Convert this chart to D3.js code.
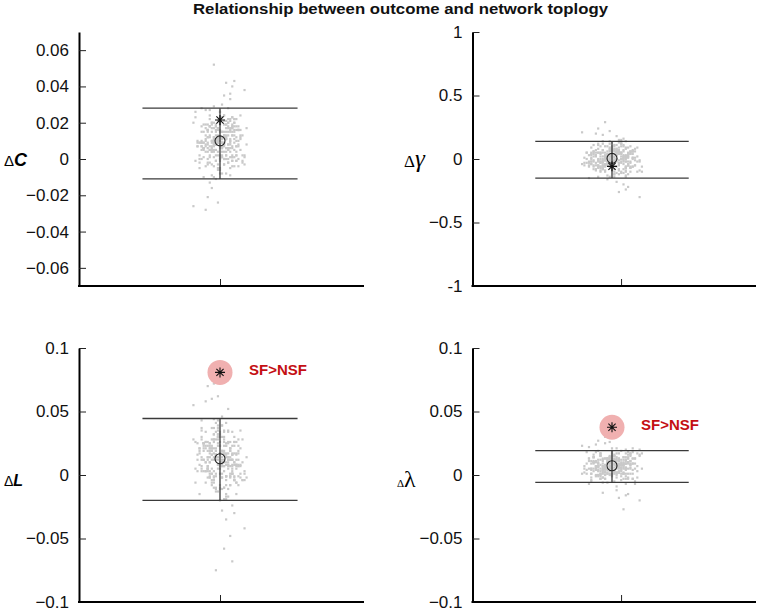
<!DOCTYPE html>
<html><head><meta charset="utf-8">
<script src="https://cdn.jsdelivr.net/npm/d3@7"></script>
<style>body{margin:0;background:#fff;} svg{display:block;font-family:"Liberation Sans",Arial,Helvetica,sans-serif;}</style>
</head><body><svg id="chart" width="765" height="611"></svg>
<script>
// ---------------- DATA ----------------
const titleText = "Relationship between outcome and network toplogy";
const panelKeys = ["C", "gamma", "L", "lambda"];
const yDomains = [[-0.07, 0.07], [-1, 1], [-0.1, 0.1], [-0.1, 0.1]];
const yTicksC = [-0.06, -0.04, -0.02, 0, 0.02, 0.04, 0.06];
const yTickLabelsC = ["\u22120.06", "\u22120.04", "\u22120.02", "0", "0.02", "0.04", "0.06"];
const yTicksGamma = [-1, -0.5, 0, 0.5, 1];
const yTickLabelsGamma = ["-1", "\u22120.5", "0", "0.5", "1"];
const yTicksL = [-0.1, -0.05, 0, 0.05, 0.1];
const yTickLabelsL = ["\u22120.1", "\u22120.05", "0", "0.05", "0.1"];
const yTicksLambda = [-0.1, -0.05, 0, 0.05, 0.1];
const yTickLabelsLambda = ["\u22120.1", "\u22120.05", "0", "0.05", "0.1"];

// x category slot (single group at 1) and its tick position
const xDomain = [0, 2];
const xCategory = 1;
const xTickAt = [1, 1.065, 1, 1.065];

// summary statistics per panel
const meanVals  = [0.010, 0.005, 0.0128, 0.0073];
const starVals  = [0.0215, -0.058, 0.0808, 0.0376];
const upperVals = [0.028, 0.139, 0.0445, 0.0192];
const lowerVals = [-0.011, -0.150, -0.020, -0.0058];
const significant = [false, false, true, true];
const sigLabel = "SF>NSF";

// point clouds (null distribution). jitter = horizontal scatter index
const jitter = [2,-5,7,-1,4,-8,0,6,-3,9,-6,1,-2,5,-9,3,8,-4,0,-7,6,-1,3,-10,2,-5,11,-3,4,0,
-8,5,-2,7,-4,1,-6,9,-1,3,0,-3,6,-11,4,-2,8,-5,1,-7,5,-4,2,10,-1,-6,3,-9,7,0,
-2,4,-8,1,6,-3,12,-5,2,-1,8,-7,0,3,-4,5,-10,2,-6,9,-1,6,-3,4,-12,1,7,-2,5,-8,
3,0,-5,8,-1,-4,6,-9,2,11,-7,4,-2,1,9,-6,0,5,-3,7,-10,2,6,-4,3,-1,-8,13,0,-5,
4,-2,8,-6,1,5,-9,3,-3,10,-4,0,6,-7,2,-11,4,1,-5,8,-2,7,-1,3,-6,9,-3,0,5,-8,
1,-4,10,-2,6,-9,2,-5,4,0,-3,7,-6,3,-1,12,-7,5,-13,2,-4,6,1,-2,8];
const jitter2 = [-4,7,1,-9,3,-2,6,-6,10,0,5,-3,-8,2,8,-1,-5,4,-11,6,1,9,-4,-2,5,-7,0,12,-3,3,
-6,2,7,-1,-10,4,-3,8,1,-5,9,-2,3,-8,0,6,-12,2,5,-4,-1,7,-6,4,-3,11,1,-7,3,-2,
8,-5,2,-9,6,0,-4,5,-1,-13,3,10,-2,-6,4,1,-8,7,-3,2,-7,5,0,9,-4,-1,6,-10,3,8,
-2,-5,11,1,-3,7,-9,4,0,-6,6,2,-1,-12,5,-4,8,3,-7,1,-3,9,0,4,-8,-2,6,-5,12,-1,
2,-6,7,-3,1,10,-9,0,5,-4,-10,3,-1,8,-5,2,4,-7,1,9,0,-2,6,-11,3,5,-6,1,-3,7,
-8,4,2,-4,13,-1,-5,6,0,-9];
// ΔC values in thousandths
const cloudC = [12,1,22,9,5,19,-8,15,8,18,-3,11,16,6,28,0,10,4,20,7,13,-5,17,2,9,24,-1,12,8,21,
5,16,-11,11,19,1,15,-4,10,6,23,4,18,9,-2,13,7,27,2,17,8,20,0,12,-6,16,11,5,22,-1,
15,6,9,30,1,10,-3,18,4,12,7,19,2,13,-9,21,9,0,16,8,17,-4,11,5,26,6,20,-1,10,15,
2,12,-13,18,9,4,23,7,13,-2,11,8,19,1,16,6,21,-5,9,13,0,24,7,15,2,10,-10,17,12,5,
20,8,-1,16,9,4,18,11,-4,13,6,26,1,10,19,7,-2,15,2,22,9,5,17,-8,12,16,8,0,33,6,
15,-3,11,18,2,9,13,7,20,1,52,43,-21,42,-24,38,-28,36,-26,35,-16,40];
const cloudC2 = [7,18,4,10,21,-1,13,8,16,-5,9,17,6,24,2,11,-2,15,7,19,12,0,10,5,22,8,16,1,29,6,
4,13,20,-3,9,17,7,12,-8,18,10,2,19,6,15,-1,23,8,11,5,16,-4,9,18,1,13,6,27,4,10,
-1,12,21,7,17,-6,9,15,2,20,11,5,8,19,0,23,6,16,9,-3,13,1,26,7,10,4,18,-2,12,16,
8,22,2,11,-10,15,9,6,19,0,17,7,13,-1,10,20,4,12,-4,9,5,16,8,28,1,11,6,18,2,21,
15,-2,9,12,7,24,0,10,17,5,-5,19,11,2,13,8,22,4,9,16,6,18,-1,10,15,-9,12,7,20,1,
9,13,-3,17,8,11,5,23,0,15];
// Δγ values in hundredths
const cloudGamma = [6,-10,2,-3,12,-2,8,-7,1,4,-5,2,-16,6,0,-4,10,-2,3,-8,2,-1,7,-6,5,-2,9,-10,0,3,
-6,11,-2,4,-5,1,-14,6,2,-3,8,-1,-7,5,0,-4,6,2,-10,3,-2,12,-6,1,7,-2,-8,4,-5,10,
0,-3,6,-12,2,5,-1,-6,18,-2,4,-9,2,6,-5,0,3,-2,8,-6,2,-6,10,0,-3,7,-12,4,-1,6,
-9,2,5,-2,14,-6,1,-4,8,-2,3,-10,6,-5,0,11,-7,2,-1,9,-3,5,-14,2,7,-6,4,-10,1,-2,
10,-4,6,0,-8,3,-2,13,-5,6,-1,8,-6,2,-11,5,2,-3,10,-7,4,-2,0,15,-6,1,-9,6,-4,2,
-2,7,-5,3,-13,9,0,-6,5,-1,29,-22,24,-26,22,-30,20,-20,21,-18,19,-24];
const cloudGamma2 = [-8,3,10,-2,6,-13,0,5,-5,9,2,-4,-1,8,-7,12,-3,5,0,-10,4,-6,14,-2,1,-5,7,-9,3,5,
-1,11,-5,2,-15,5,0,-3,8,-7,6,-2,4,-8,1,9,-5,3,-11,0,-4,5,-1,15,-6,2,-3,7,-5,10,
5,-9,0,3,-2,13,-7,1,6,-4,-12,8,2,-5,4,-1,11,-5,0,5,-3,7,-8,1,5,-14,3,-2,9,-6,
0,4,-10,6,-1,2,-4,12,-7,5,-2,7,-5,1,10,-8,4,-1,5,-12,0,6,-3,13,-5,2,-9,5,-2,8,
3,-7,1,-4,11,-1,5,-6,16,-3,-5,4,9,-10,0,6,-2,3,-14,7,1,-5,8,-3,5,-8,12,-1,2,-4,
5,-11,0,7,-6,4,-3,14,-5,1];
// ΔL values in thousandths
const cloudL = [30,10,-4,23,12,3,26,16,-10,19,7,39,-1,14,28,8,-6,21,1,34,12,5,25,-15,17,23,10,-2,52,7,
21,-8,16,26,1,12,19,8,30,-1,17,-1,34,12,5,28,-15,21,10,26,-8,16,23,7,43,-2,14,3,30,8,
19,-11,25,1,12,37,-4,17,10,32,5,23,-20,16,28,-1,21,-10,14,7,35,3,26,12,-6,19,8,41,1,25,
10,30,-2,17,-13,23,16,5,34,-4,21,7,12,46,-1,14,-8,26,3,17,8,28,1,19,-17,32,12,-2,23,10,
25,-10,16,5,39,7,30,-4,14,21,1,17,-24,26,12,3,35,8,19,-6,16,10,28,-1,23,7,32,-11,12,19,
-2,37,8,21,1,14,-19,25,17,5,72,-30,70,-35,62,-42,58,-48,55,-58,60,-68,-28,-75];
const cloudL2 = [5,23,10,43,-1,16,7,26,1,32,21,-6,12,17,8,37,-2,14,25,5,-11,28,16,1,19,10,34,3,12,23,
7,26,-4,14,21,-17,17,8,30,-1,12,19,-8,25,10,16,5,35,-2,21,8,26,3,14,32,-4,19,10,23,-11,
12,25,7,37,1,16,-6,21,8,28,17,-2,14,5,34,10,23,-1,44,7,3,19,30,-8,12,25,8,17,-15,26,
14,1,28,7,21,-4,35,10,16,5,23,-10,12,26,-1,19,7,41,3,14,-4,17,32,8,25,-13,12,21,1,30,
16,5,10,28,-2,35,7,23,12,-8,19,-1,39,8,14,3,26,-6,17,23,10,34,1,16,-19,21,12,7,28,-2,
25,8,19,-4,14,30,3,17,-10,12];
// Δλ values in thousandths
const cloudLambda = [17,3,13,7,-1,10,5,20,2,13,6,15,1,9,-4,12,9,4,17,0,11,5,7,22,1,8,-2,13,3,9,
5,14,2,10,-6,16,7,1,12,6,13,-3,9,4,19,5,15,0,8,11,2,9,-9,13,7,3,17,5,10,-1,
9,6,14,1,12,5,16,-3,7,10,1,18,5,11,2,8,-7,13,9,4,15,6,0,12,7,3,13,9,-3,10,
5,19,1,8,14,5,-1,11,2,17,7,4,13,-5,9,12,6,1,25,5,11,-2,9,13,2,7,10,5,15,1,
9,1,17,7,4,14,-5,11,6,13,-2,9,12,5,21,1,8,3,15,5,10,-3,13,2,7,18,0,9,6,16,
4,12,-7,9,14,1,11,-3,8,5,30,-15,27,-18,26,-20,24,-27,23,-12,-14,-16];
const cloudLambda2 = [3,10,15,-2,7,13,5,9,-5,13,8,2,14,5,11,0,17,6,9,4,12,-3,7,13,1,10,5,20,3,8,
0,9,16,5,13,-4,7,11,2,15,9,4,6,14,1,17,5,12,7,-2,10,1,19,5,8,3,13,-1,9,12,
6,17,2,9,-7,11,7,5,14,1,13,5,10,0,8,15,3,9,-3,7,4,12,6,21,1,9,5,13,2,16,
11,-1,7,9,5,18,1,8,13,4,-3,14,9,2,10,6,17,3,7,12,5,13,0,8,11,-6,9,5,15,1,
7,10,-2,13,6,9,4,17,1,11,5,13,3,8,16,0,10,6,12,-3,7,13,5,18,2,9,-1,11,5,14,
9,1,8,4,17,6,12,1,21,5];
const cloudUnits = [1000, 100, 1000, 1000];

// ---------------- LAYOUT / STYLE ----------------
const layout = [
  {x0: 79,    x1: 361,   axEnd: 364, y0: 32,  y1: 286, jit: 0.0145},
  {x0: 472.5, x1: 751.5, axEnd: 756, y0: 32,  y1: 286, jit: 0.0165},
  {x0: 79,    x1: 361,   axEnd: 364, y0: 348, y1: 602, jit: 0.0145},
  {x0: 472.5, x1: 751.5, axEnd: 756, y0: 348, y1: 602, jit: 0.0165}
];
const ticksAll = [yTicksC, yTicksGamma, yTicksL, yTicksLambda];
const tickLabelsAll = [yTickLabelsC, yTickLabelsGamma, yTickLabelsL, yTickLabelsLambda];
const cloudsAll = [cloudC, cloudGamma, cloudL, cloudLambda];
const clouds2All = [cloudC2, cloudGamma2, cloudL2, cloudLambda2];

const svg = d3.select("#chart");

svg.append("text")
  .attr("x", 400.5).attr("y", 13.5)
  .attr("text-anchor", "middle")
  .attr("font-weight", "bold").attr("font-size", 14)
  .attr("textLength", 415).attr("lengthAdjust", "spacingAndGlyphs")
  .attr("fill", "#111")
  .text(titleText);

const starPath = "M-5,0H5M0,-5V5M-3.6,-3.6L3.6,3.6M-3.6,3.6L3.6,-3.6";

panelKeys.forEach((key, i) => {
  const L = layout[i];
  const x = d3.scaleLinear().domain(xDomain).range([L.x0, L.x1]);
  const y = d3.scaleLinear().domain(yDomains[i]).range([L.y1, L.y0]);
  const g = svg.append("g").attr("class", "panel-" + key);

  // point cloud
  const unit = cloudUnits[i];
  const pts = cloudsAll[i].map((v, k) => ({x: xCategory + jitter[k] * L.jit, y: v / unit}))
    .concat(clouds2All[i].map((v, k) => ({x: xCategory + jitter2[k] * L.jit, y: v / unit})));
  g.append("g").selectAll("rect").data(pts).join("rect")
    .attr("x", d => x(d.x) - 1.1).attr("y", d => y(d.y) - 1.1)
    .attr("width", 2.2).attr("height", 2.2)
    .attr("fill", "#c9c9c9");

  // significance highlight
  if (significant[i]) {
    g.append("circle")
      .attr("cx", x(xCategory)).attr("cy", y(starVals[i])).attr("r", 12.5)
      .attr("fill", "#f0b0b0");
  }

  // error bars
  const cap = 0.55;
  const eb = g.append("g").attr("stroke", "#3a3a3a").attr("stroke-width", 1.3);
  eb.append("line").attr("x1", x(xCategory - cap)).attr("x2", x(xCategory + cap))
    .attr("y1", y(upperVals[i])).attr("y2", y(upperVals[i]));
  eb.append("line").attr("x1", x(xCategory - cap)).attr("x2", x(xCategory + cap))
    .attr("y1", y(lowerVals[i])).attr("y2", y(lowerVals[i]));
  eb.append("line").attr("x1", x(xCategory)).attr("x2", x(xCategory))
    .attr("y1", y(upperVals[i])).attr("y2", y(lowerVals[i]));

  // mean circle
  g.append("circle").attr("cx", x(xCategory)).attr("cy", y(meanVals[i])).attr("r", 5)
    .attr("fill", "none").attr("stroke", "#222").attr("stroke-width", 1.1);
  // observed star
  g.append("path").attr("d", starPath)
    .attr("transform", `translate(${x(xCategory)},${y(starVals[i])})`)
    .attr("stroke", "#111").attr("stroke-width", 1.1).attr("fill", "none");

  if (significant[i]) {
    g.append("text").attr("x", x(xCategory) + 29).attr("y", y(starVals[i]) + 3)
      .attr("font-weight", "bold").attr("font-size", 15).attr("fill", "#c40f13")
      .text(sigLabel);
  }

  // y axis
  const yAxis = d3.axisLeft(y).tickValues(ticksAll[i])
    .tickFormat((d, k) => tickLabelsAll[i][k])
    .tickSizeInner(-7).tickSizeOuter(0).tickPadding(10);
  const ya = g.append("g").attr("transform", `translate(${L.x0},0)`).call(yAxis);
  ya.select(".domain").attr("stroke", "#000").attr("stroke-width", 2);
  ya.selectAll(".tick line").attr("stroke", "#222").attr("stroke-width", 1);
  ya.selectAll(".tick text").attr("font-size", 17).attr("fill", "#111")
    .attr("font-family", "'Liberation Sans', Arial, sans-serif");

  // x axis
  const xAxis = d3.axisBottom(x).tickValues([xTickAt[i]]).tickFormat(() => "")
    .tickSizeInner(-7).tickSizeOuter(0);
  const xa = g.append("g").attr("transform", `translate(0,${L.y1})`).call(xAxis);
  xa.select(".domain").remove();
  xa.selectAll(".tick line").attr("stroke", "#222").attr("stroke-width", 1);
  g.append("line").attr("x1", L.x0 - 1).attr("x2", L.axEnd)
    .attr("y1", L.y1).attr("y2", L.y1).attr("stroke", "#000").attr("stroke-width", 2);
});

// y-axis labels
function yLabel(px, py, parts) {
  const t = svg.append("text").attr("x", px).attr("y", py);
  parts.forEach(p => {
    const s = t.append("tspan").text(p.t).attr("font-size", p.size);
    if (p.family) s.attr("font-family", p.family);
    if (p.bold) s.attr("font-weight", "bold");
    if (p.italic) s.attr("font-style", "italic");
  });
}
yLabel(4, 166, [{t: "\u0394", size: 15}, {t: "C", size: 18, bold: true, italic: true}]);
yLabel(404, 167, [{t: "\u0394", size: 17, family: "'Liberation Serif', serif"}, {t: "\u03b3", size: 25, italic: true, family: "'Liberation Serif', serif"}]);
yLabel(4, 486, [{t: "\u0394", size: 14}, {t: "L", size: 16, bold: true, italic: true}]);
yLabel(397, 487, [{t: "\u0394", size: 11, family: "'Liberation Serif', serif"}, {t: "\u03bb", size: 24, family: "'Liberation Serif', serif"}]);
</script></body></html>
